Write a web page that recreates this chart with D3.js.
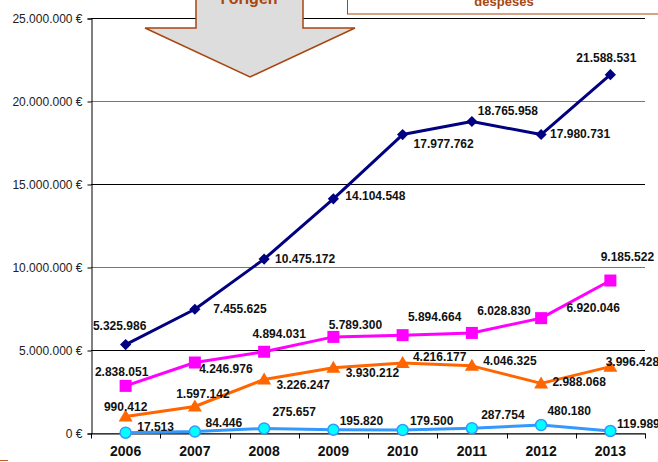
<!DOCTYPE html>
<html>
<head>
<meta charset="utf-8">
<script src="https://cdn.jsdelivr.net/npm/d3@7"></script>
<style>
  body { margin: 0; background: #fff; }
  svg { display: block; font-family: "Liberation Sans", Arial, sans-serif; }
</style>
</head>
<body>
<div id="main"></div>
<script>
const years = ["2006", "2007", "2008", "2009", "2010", "2011", "2012", "2013"];

const totalValues = [5325986, 7455625, 10475172, 14104548, 17977762, 18765958, 17980731, 21588531];
const magentaValues = [2838051, 4246976, 4894031, 5789300, 5894664, 6028830, 6920046, 9185522];
const orangeValues = [990412, 1597142, 3226247, 3930212, 4216177, 4046325, 2988068, 3996428];
const blueValues = [17513, 84446, 275657, 195820, 179500, 287754, 480180, 119989];

const yTicks = [0, 5000000, 10000000, 15000000, 20000000, 25000000];

// where each value label sits, relative to its point (layout only)
const totalLabelOffsets = [[-6, -19], [45, 0], [41, 0], [42, -3], [41, 9], [36, -10], [39, -1], [-4, -17]];
const magentaLabelOffsets = [[-4, -14], [31, 6], [15, -18], [22, -12], [32, -18], [32, -22], [52, -10], [17, -24]];
const orangeLabelOffsets = [[0, -10], [8, -12], [39, 6], [39, 5], [37, -6], [38, -5], [38, -1], [22, -5]];
const blueLabelOffsets = [[30, -6], [29, -9], [30, -16], [28, -9], [29, -9], [31, -13], [28, -14], [28, -7]];

const width = 658;
const height = 462;
const margin = { top: 18, right: 13, bottom: 29, left: 91 };

const locale = d3.formatLocale({
  decimal: ",",
  thousands: ".",
  grouping: [3],
  currency: ["", " €"]
});
const fmt = locale.format(",d");

const svg = d3
  .select("#main")
  .append("svg")
  .attr("width", width)
  .attr("height", height);

svg.append("rect").attr("width", width).attr("height", height).attr("fill", "#fff");

const x = d3
  .scaleBand()
  .domain(years)
  .range([margin.left, width - margin.right])
  .padding(0);

const y = d3
  .scaleLinear()
  .domain([0, 25000000])
  .range([height - margin.bottom, margin.top]);

const cx = (d) => x(d) + x.bandwidth() / 2;

// gridlines
svg
  .append("g")
  .selectAll("line")
  .data(yTicks)
  .enter()
  .append("line")
  .attr("x1", margin.left)
  .attr("x2", width - margin.right)
  .attr("y1", (d) => Math.round(y(d)) + 0.5)
  .attr("y2", (d) => Math.round(y(d)) + 0.5)
  .attr("stroke", (d, i) => (i % 2 === 0 ? "#777" : "#000"))
  .attr("stroke-width", 1);

// y axis
const yAxis = svg
  .append("g")
  .attr("transform", `translate(${margin.left + 0.5},0.5)`)
  .call(
    d3
      .axisLeft(y)
      .tickValues(yTicks)
      .tickSize(4)
      .tickPadding(5)
      .tickFormat((d) => fmt(d) + " €")
  );
yAxis.selectAll("line").attr("stroke", "#000");
yAxis.select(".domain").attr("stroke", "#000");
yAxis.selectAll("text").attr("font-size", 12).attr("fill", "#222").attr("font-family", "Liberation Sans, Arial, sans-serif");

// x axis
const xAxis = svg
  .append("g")
  .attr("transform", `translate(0,${Math.round(y(0)) + 0.5})`)
  .call(d3.axisBottom(x).tickSize(0).tickPadding(13));
xAxis.select(".domain").attr("stroke", "#000");
xAxis
  .selectAll("text")
  .attr("font-size", 14)
  .attr("font-weight", "bold")
  .attr("fill", "#111")
  .attr("font-family", "Liberation Sans, Arial, sans-serif");

xAxis
  .append("g")
  .selectAll("line")
  .data(years.concat(["end"]))
  .enter()
  .append("line")
  .attr("x1", (d, i) => Math.round(margin.left + i * x.bandwidth()) + 0.5)
  .attr("x2", (d, i) => Math.round(margin.left + i * x.bandwidth()) + 0.5)
  .attr("y1", 0)
  .attr("y2", 5)
  .attr("stroke", "#000");

const series = [
  { values: totalValues, color: "#000080", marker: "diamond", offsets: totalLabelOffsets },
  { values: magentaValues, color: "#FF00FF", marker: "square", offsets: magentaLabelOffsets },
  { values: orangeValues, color: "#FF6600", marker: "triangle", offsets: orangeLabelOffsets },
  { values: blueValues, color: "#3399FF", marker: "circle", offsets: blueLabelOffsets }
];

const line = d3
  .line()
  .x((d, i) => cx(years[i]))
  .y((d) => y(d));

series.forEach((s) => {
  svg
    .append("path")
    .datum(s.values)
    .attr("fill", "none")
    .attr("stroke", s.color)
    .attr("stroke-width", 3)
    .attr("stroke-linejoin", "round")
    .attr("d", line);

  const g = svg.append("g");
  const pts = g
    .selectAll("path")
    .data(s.values)
    .enter()
    .append("path")
    .attr("transform", (d, i) => `translate(${cx(years[i])},${y(d)})`);

  if (s.marker === "diamond") {
    pts.attr("d", d3.symbol(d3.symbolDiamond2, 80)).attr("fill", s.color);
  } else if (s.marker === "square") {
    pts.attr("d", "M-6,-6H6V6H-6Z").attr("fill", s.color);
  } else if (s.marker === "triangle") {
    pts.attr("d", "M0,-7L7,5H-7Z").attr("fill", s.color);
  } else {
    pts
      .attr("d", d3.symbol(d3.symbolCircle, 95))
      .attr("fill", "#00FFFF")
      .attr("stroke", s.color)
      .attr("stroke-width", 1.5);
  }
});

// value labels
series.forEach((s) => {
  svg
    .append("g")
    .selectAll("text")
    .data(s.values)
    .enter()
    .append("text")
    .attr("x", (d, i) => cx(years[i]) + s.offsets[i][0])
    .attr("y", (d, i) => y(d) + s.offsets[i][1])
    .attr("text-anchor", "middle")
    .attr("dominant-baseline", "central")
    .attr("font-size", 12)
    .attr("font-weight", "bold")
    .attr("fill", "#111")
    .text((d) => fmt(d));
});

// decorations cut off at the top of the picture
const brown = "#A8460F";
svg
  .append("path")
  .attr("d", "M196,-5V28H145L250,77L355,28H303V-5Z")
  .attr("fill", "#DDDDDD")
  .attr("stroke", brown)
  .attr("stroke-width", 1.5);
svg
  .append("text")
  .attr("x", 249)
  .attr("y", 4)
  .attr("text-anchor", "middle")
  .attr("font-size", 16)
  .attr("font-weight", "bold")
  .attr("fill", brown)
  .text("l'origen");

svg
  .append("rect")
  .attr("x", 347.5)
  .attr("y", -20)
  .attr("width", 320)
  .attr("height", 34)
  .attr("fill", "#fff")
  .attr("stroke", brown)
  .attr("stroke-width", 1);
svg
  .append("text")
  .attr("x", 504)
  .attr("y", 6)
  .attr("text-anchor", "middle")
  .attr("font-size", 13)
  .attr("font-weight", "bold")
  .attr("fill", brown)
  .text("despeses");

svg
  .append("line")
  .attr("x1", 0)
  .attr("x2", 8)
  .attr("y1", 460.5)
  .attr("y2", 460.5)
  .attr("stroke", "#C06030")
  .attr("stroke-width", 1);
</script>
</body>
</html>
